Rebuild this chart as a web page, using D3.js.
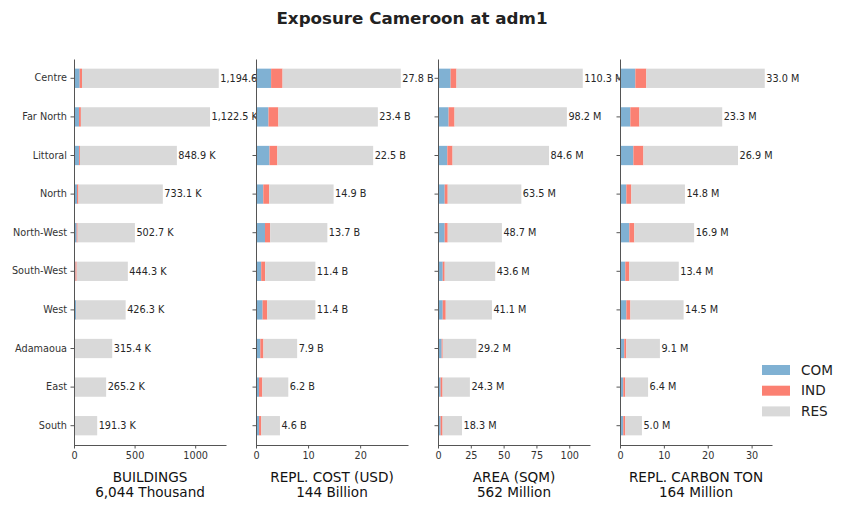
<!DOCTYPE html>
<html>
<head>
<meta charset="utf-8">
<script src="https://cdn.jsdelivr.net/npm/d3@7"></script>
<style>
  body { margin: 0; background: #fff; }
  svg { display: block; font-family: "DejaVu Sans", sans-serif; }
</style>
</head>
<body>
<svg id="chart" width="849" height="510"></svg>
<script>
const regions = ["Centre", "Far North", "Littoral", "North", "North-West",
  "South-West", "West", "Adamaoua", "East", "South"]
const sectors = ["COM", "IND", "RES"]
const colors = ["#80b1d3", "#fb8072", "#d9d9d9"]

// buildings, thousands
const bldCom = [47, 41, 41, 25, 22, 12, 18, 8, 7, 7]
const bldInd = [19, 16, 8, 12, 8, 10, 2, 1, 1, 1]
const bldRes = [1128.6, 1065.5, 799.9, 696.1, 472.7, 422.3, 406.3, 306.4, 257.2, 183.3]

// replacement cost, billion USD
const costCom = [2.9, 2.4, 2.6, 1.4, 1.73, 1.0, 1.27, 0.83, 0.58, 0.58]
const costInd = [2.2, 1.9, 1.5, 1.15, 1.0, 0.77, 0.9, 0.6, 0.64, 0.45]
const costRes = [22.7, 19.1, 18.4, 12.35, 10.97, 9.63, 9.23, 6.47, 4.98, 3.57]

// area, million sqm
const areaCom = [9.6, 8.1, 7.1, 5.1, 5.1, 3.6, 3.6, 2.8, 2.0, 2.0]
const areaInd = [4.5, 4.5, 4.0, 2.3, 2.3, 1.5, 2.3, 0.8, 1.5, 1.5]
const areaRes = [96.2, 85.6, 73.5, 56.1, 41.3, 38.5, 35.2, 25.6, 20.8, 14.8]

// replacement carbon, million ton
const carbCom = [3.5, 2.36, 3.05, 1.45, 2.13, 1.21, 1.45, 0.98, 0.75, 0.75]
const carbInd = [2.5, 2.06, 2.29, 1.14, 1.14, 0.92, 0.92, 0.46, 0.46, 0.46]
const carbRes = [27.0, 18.88, 21.56, 12.21, 13.63, 11.27, 12.13, 7.66, 5.19, 3.79]

const panelTitles = ["BUILDINGS", "REPL. COST (USD)", "AREA (SQM)", "REPL. CARBON TON"]
const panelTotals = ["6,044 Thousand", "144 Billion", "562 Million", "164 Million"]
const panelUnits = ["K", "B", "M", "M"]
const panelTicks = [[0, 500, 1000], [0, 10, 20], [0, 25, 50, 75, 100], [0, 10, 20, 30]]

const panels = [
  [bldCom, bldInd, bldRes],
  [costCom, costInd, costRes],
  [areaCom, areaInd, areaRes],
  [carbCom, carbInd, carbRes]
]

const svg = d3.select("#chart")
const plotTop = 59, plotBottom = 445
const panelWidth = 152, firstLeft = 74, panelStep = 182

svg.append("text")
  .attr("x", 412)
  .attr("y", 24)
  .attr("text-anchor", "middle")
  .attr("font-size", 16.7)
  .attr("font-weight", "bold")
  .attr("fill", "#222")
  .text("Exposure Cameroon at adm1")

const yScale = d3.scaleBand()
  .domain(regions)
  .range([plotTop, plotBottom])
  .paddingInner(0.5)
  .paddingOuter(0.25)

const fmt = d3.format(",.1f")

panels.forEach((series, p) => {
  const left = firstLeft + p * panelStep
  const rows = regions.map((r, i) => {
    const row = { region: r }
    sectors.forEach((s, k) => { row[s] = series[k][i] })
    row.total = series[0][i] + series[1][i] + series[2][i]
    return row
  })
  const maxTotal = d3.max(rows, d => d.total)

  const xScale = d3.scaleLinear()
    .domain([0, maxTotal * 1.05])
    .range([0, panelWidth])

  const g = svg.append("g").attr("transform", `translate(${left},0)`)

  // axes background hides the overflow of the previous panel's labels
  g.append("rect")
    .attr("x", 0).attr("y", plotTop)
    .attr("width", panelWidth).attr("height", plotBottom - plotTop)
    .attr("fill", "#fff")

  const stacked = d3.stack().keys(sectors)(rows)

  g.append("g")
    .selectAll("g")
    .data(stacked)
    .join("g")
    .attr("fill", (d, k) => colors[k])
    .selectAll("rect")
    .data(d => d)
    .join("rect")
    .attr("x", d => xScale(d[0]))
    .attr("width", d => xScale(d[1]) - xScale(d[0]))
    .attr("y", d => yScale(d.data.region))
    .attr("height", yScale.bandwidth())

  g.append("g")
    .attr("font-size", 9.7)
    .attr("fill", "#262626")
    .selectAll("text")
    .data(rows)
    .join("text")
    .attr("x", d => xScale(d.total) + 1.5)
    .attr("y", d => yScale(d.region) + yScale.bandwidth() / 2)
    .attr("dy", "0.35em")
    .text(d => `${fmt(d.total)} ${panelUnits[p]}`)

  const xAxis = g.append("g")
    .attr("transform", `translate(0,${plotBottom})`)
    .call(d3.axisBottom(xScale).tickValues(panelTicks[p]).tickFormat(d3.format("d"))
      .tickSize(3.5).tickPadding(3.5).tickSizeOuter(0))
  xAxis.select(".domain").attr("stroke", "#555")
  xAxis.selectAll(".tick line").attr("stroke", "#555")
  xAxis.selectAll("text").attr("font-size", 9.7).attr("fill", "#333")
    .attr("font-family", "DejaVu Sans")

  const yAxis = g.append("g")
    .call(d3.axisLeft(yScale).tickSize(3.5).tickPadding(3.5).tickSizeOuter(0))
  yAxis.select(".domain").attr("stroke", "#555")
  yAxis.selectAll(".tick line").attr("stroke", "#555")
  yAxis.selectAll("text").attr("font-size", 9.7).attr("fill", "#333")
    .attr("font-family", "DejaVu Sans")
  if (p > 0) yAxis.selectAll("text").remove()

  g.append("text")
    .attr("x", panelWidth / 2)
    .attr("y", 482)
    .attr("text-anchor", "middle")
    .attr("font-size", 13.6)
    .attr("fill", "#111")
    .text(panelTitles[p])
  g.append("text")
    .attr("x", panelWidth / 2)
    .attr("y", 497)
    .attr("text-anchor", "middle")
    .attr("font-size", 13.6)
    .attr("fill", "#111")
    .text(panelTotals[p])
})

const legend = svg.append("g").attr("transform", "translate(762,365)")
legend.selectAll("g")
  .data(sectors)
  .join("g")
  .attr("transform", (d, i) => `translate(0,${i * 20.7})`)
  .call(row => row.append("rect")
    .attr("width", 28).attr("height", 10)
    .attr("fill", (d, i) => colors[i]))
  .call(row => row.append("text")
    .attr("x", 39).attr("y", 5)
    .attr("dy", "0.35em")
    .attr("font-size", 13.6)
    .attr("fill", "#222")
    .text(d => d))
</script>
</body>
</html>
